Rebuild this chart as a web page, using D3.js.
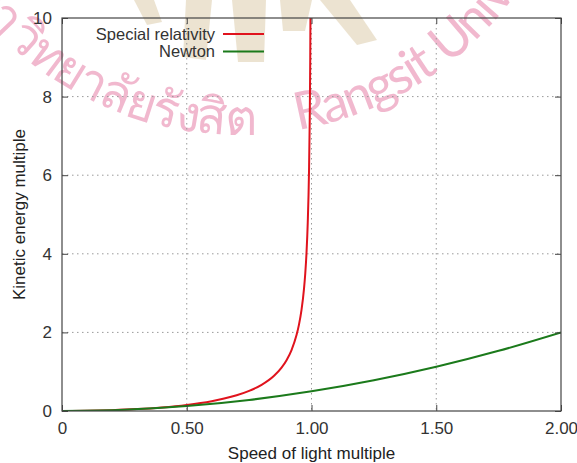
<!DOCTYPE html>
<html>
<head>
<meta charset="utf-8">
<script src="https://cdn.jsdelivr.net/npm/d3@7"></script>
<style>
  body { margin: 0; background: #fff; }
  svg { display: block; font-family: "Liberation Sans", Arial, sans-serif; }
</style>
</head>
<body>
<svg id="chart" width="577" height="463"></svg>
<script>
// values
const relSpeed = [0, 0.1, 0.2, 0.3, 0.4, 0.5, 0.6, 0.65, 0.7, 0.75, 0.8, 0.85, 0.88, 0.9, 0.92, 0.94, 0.95, 0.96, 0.97, 0.975, 0.98, 0.985, 0.99, 0.993, 0.995, 0.9965];
const relEnergy = [0, 0.005, 0.021, 0.048, 0.091, 0.155, 0.25, 0.316, 0.40, 0.512, 0.667, 0.898, 1.105, 1.294, 1.552, 1.931, 2.203, 2.571, 3.113, 3.50, 4.025, 4.80, 6.089, 7.46, 9.01, 10.97];
const newtonSpeed = [0, 0.25, 0.5, 0.75, 1.0, 1.25, 1.5, 1.75, 2.0];
const newtonEnergy = [0, 0.031, 0.125, 0.281, 0.5, 0.781, 1.125, 1.531, 2.0];
const xTicks = [0, 0.5, 1, 1.5, 2];
const yTicks = [0, 2, 4, 6, 8, 10];
const seriesNames = ["Special relativity", "Newton"];
const seriesColors = ["#e0131d", "#1b7a1b"];

const width = 577;
const height = 463;
const margin = { top: 18, right: 16, bottom: 52, left: 62 };
const innerWidth = width - margin.left - margin.right;
const innerHeight = height - margin.top - margin.bottom;

const svg = d3.select("#chart");

// watermark (university stamp behind the plot)
const wm = svg.append("g").attr("class", "watermark");
const rays = [
  [[134, 0], [154, 0], [162, 22], [147, 25]],
  [[186, 0], [212, 0], [206, 60], [183, 57]],
  [[232, 0], [266, 0], [264, 62], [238, 62]],
  [[280, 0], [312, 0], [305, 31], [283, 31]],
  [[320, 0], [350, 0], [377, 40], [357, 45]],
];
wm.selectAll("polygon")
  .data(rays)
  .enter()
  .append("polygon")
  .attr("points", (d) => d.map((p) => p.join(",")).join(" "))
  .attr("fill", "#d9c7a4")
  .attr("opacity", 0.5);

wm.append("path")
  .attr("id", "wmArc")
  .attr("d", "M -95.8 -146.8 A 341 341 0 0 0 575.8 -146.8")
  .attr("fill", "none");

// pieces of the stamp text: [text, offset along arc, anchor, width to fit]
const wmPieces = [
  ["มหา", 214, "end", null, 50, "'Noto Sans', sans-serif"],
  ["วิทยาลัยรังสิต", 217, "start", 266, 50, "'Noto Sans', sans-serif"],
  ["Rangsit", 534, "start", 152, 52, "Lato, 'Noto Sans', sans-serif"],
  ["University", 699, "start", null, 52, "Lato, 'Noto Sans', sans-serif"],
];
let latinSpacing = 0;
wmPieces.forEach(([txt, off, anchor, fit, size, family]) => {
  const t = wm.append("text")
    .attr("font-family", family)
    .attr("font-size", size)
    .attr("fill", "#e88aaf")
    .attr("opacity", 0.6)
    .attr("text-anchor", anchor);
  const tp = t.append("textPath")
    .attr("href", "#wmArc")
    .attr("startOffset", off)
    .text(txt);
  if (fit) {
    const w = t.node().getComputedTextLength();
    const ls = (fit - w) / txt.length;
    t.attr("letter-spacing", ls);
    if (txt === "Rangsit") latinSpacing = ls;
  } else if (txt === "University") {
    t.attr("letter-spacing", latinSpacing);
  }
});

const g = svg.append("g").attr("transform", `translate(${margin.left},${margin.top})`);

const xScale = d3.scaleLinear().domain([0, 2]).range([0, innerWidth]);
const yScale = d3.scaleLinear().domain([0, 10]).range([innerHeight, 0]);

g.append("clipPath")
  .attr("id", "plotClip")
  .append("rect")
  .attr("width", innerWidth)
  .attr("height", innerHeight);

// dotted grid
g.append("g")
  .selectAll("line")
  .data(xTicks.filter((d) => d > 0 && d < 2))
  .enter()
  .append("line")
  .attr("x1", (d) => xScale(d))
  .attr("x2", (d) => xScale(d))
  .attr("y1", 0)
  .attr("y2", innerHeight)
  .attr("stroke", "#9a9a9a")
  .attr("stroke-dasharray", "1.5,3.5");

g.append("g")
  .selectAll("line")
  .data(yTicks.filter((d) => d > 0 && d < 10))
  .enter()
  .append("line")
  .attr("x1", 0)
  .attr("x2", innerWidth)
  .attr("y1", (d) => yScale(d))
  .attr("y2", (d) => yScale(d))
  .attr("stroke", "#9a9a9a")
  .attr("stroke-dasharray", "1.5,3.5");

// curves
const line = d3
  .line()
  .x((d) => xScale(d[0]))
  .y((d) => yScale(d[1]))
  .curve(d3.curveMonotoneX);

const series = [
  d3.zip(relSpeed, relEnergy),
  d3.zip(newtonSpeed, newtonEnergy),
];

g.append("g")
  .attr("clip-path", "url(#plotClip)")
  .selectAll("path")
  .data(series)
  .enter()
  .append("path")
  .attr("d", line)
  .attr("fill", "none")
  .attr("stroke", (d, i) => seriesColors[i])
  .attr("stroke-width", 2);

// axes, gnuplot style ticks pointing inward
const fmt = (d) => (d === 0 ? "0" : d3.format(".2f")(d));

const xAxisG = g
  .append("g")
  .attr("transform", `translate(0,${innerHeight})`)
  .call(d3.axisBottom(xScale).tickValues(xTicks).tickFormat(fmt).tickSizeInner(-6).tickSizeOuter(0).tickPadding(11));

const yAxisG = g
  .append("g")
  .call(d3.axisLeft(yScale).tickValues(yTicks).tickSizeInner(-6).tickSizeOuter(0).tickPadding(10));

const topAxisG = g
  .append("g")
  .call(d3.axisTop(xScale).tickValues(xTicks).tickFormat("").tickSizeInner(-6).tickSizeOuter(0));

const rightAxisG = g
  .append("g")
  .attr("transform", `translate(${innerWidth},0)`)
  .call(d3.axisRight(yScale).tickValues(yTicks).tickFormat("").tickSizeInner(-6).tickSizeOuter(0));

[xAxisG, yAxisG, topAxisG, rightAxisG].forEach((a) => {
  a.select(".domain").remove();
  a.selectAll(".tick line").attr("stroke", "#444");
  a.selectAll(".tick text").attr("fill", "#333").style("font-size", "17px").style("font-family", "'Liberation Sans', Arial, sans-serif");
});

g.append("rect")
  .attr("width", innerWidth)
  .attr("height", innerHeight)
  .attr("fill", "none")
  .attr("stroke", "#444")
  .attr("stroke-width", 1.2);

// axis labels
svg.append("text")
  .attr("x", margin.left + innerWidth / 2)
  .attr("y", 459)
  .attr("text-anchor", "middle")
  .attr("fill", "#222")
  .style("font-size", "17px")
  .text("Speed of light multiple");

svg.append("text")
  .attr("transform", `translate(25,${margin.top + innerHeight / 2}) rotate(-90)`)
  .attr("text-anchor", "middle")
  .attr("fill", "#222")
  .style("font-size", "17px")
  .text("Kinetic energy multiple");

// legend
const legend = svg.append("g").selectAll("g").data(seriesNames).enter().append("g")
  .attr("transform", (d, i) => `translate(0,${34 + i * 17.5})`);

legend.append("text")
  .attr("x", 215)
  .attr("dy", "0.35em")
  .attr("text-anchor", "end")
  .attr("fill", "#333")
  .style("font-size", "16.5px")
  .text((d) => d);

legend.append("line")
  .attr("x1", 223)
  .attr("x2", 264)
  .attr("stroke", (d, i) => seriesColors[i])
  .attr("stroke-width", 2);
</script>
</body>
</html>
